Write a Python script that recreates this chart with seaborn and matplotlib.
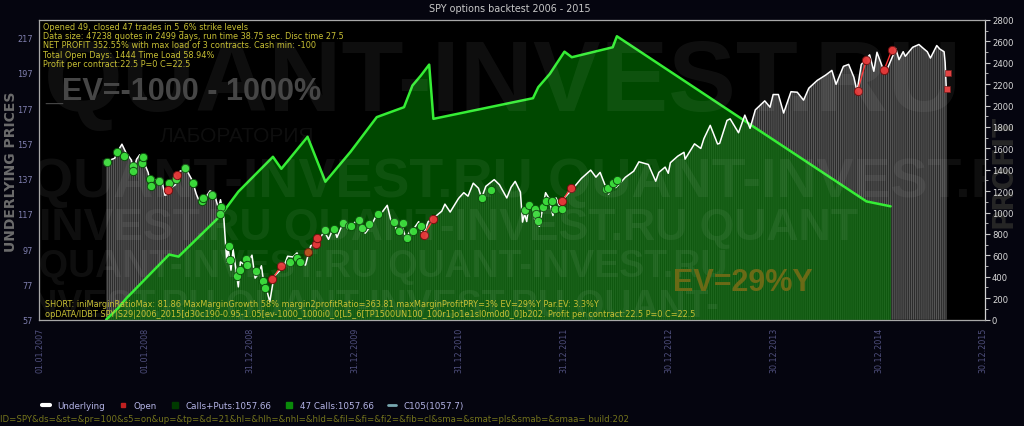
import numpy as np
import pandas as pd
import matplotlib
matplotlib.use("Agg")
import matplotlib.pyplot as plt
import seaborn as sns
from matplotlib.lines import Line2D
from matplotlib.ticker import MultipleLocator

# ---------------- data ----------------
title = "SPY options backtest 2006 - 2015"

info_lines = [
    "Opened 49, closed 47 trades in 5_6% strike levels",
    "Data size: 47238 quotes in 2499 days, run time 38.75 sec. Disc time 27.5",
    "NET PROFIT 352.55% with max load of 3 contracts. Cash min: -100",
    "Total Open Days: 1444 Time Load 58.94%",
    "Profit per contract:22.5 P=0 C=22.5",
]
short_lines = [
    "SHORT: iniMarginRatioMax: 81.86 MaxMarginGrowth 58% margin2profitRatio=363.81 maxMarginProfitPRY=3% EV=29%Y Par.EV: 3.3%Y",
    "opDATA/IDBT SPY|S29|2006_2015[d30c190-0.95-1.05[ev-1000_1000i0_0[L5_6[TP1500UN100_100r1]o1e1sl0m0d0_0]b202. Profit per contract:22.5 P=0 C=22.5",
]
url_text = ("ID=SPY&ds=&st=&pr=100&s5=on&up=&tp=&d=21&hl=&hlh=&nhl=&hld=&fil=&fi=&fi2=&fib=cl"
            "&sma=&smat=pls&smab=&smaa= build:202")
legend_labels = ["Underlying", "Open", "Calls+Puts:1057.66", "47 Calls:1057.66", "C105(1057.7)"]

x_tick_labels = ["01.01.2007", "01.01.2008", "31.12.2008", "31.12.2009", "31.12.2010",
                 "31.12.2011", "30.12.2012", "30.12.2013", "30.12.2014", "30.12.2015"]
left_ticks = [57, 77, 97, 117, 137, 157, 177, 197, 217]
right_ticks = list(range(0, 2801, 200))

# underlying price (decimal year, price)
under_year = [
    2007.63, 2007.67, 2007.71, 2007.75, 2007.78, 2007.82, 2007.84, 2007.87, 2007.89, 2007.92, 2007.95, 2007.99,
    2008.03, 2008.06, 2008.08, 2008.12, 2008.16, 2008.19, 2008.21, 2008.25, 2008.29, 2008.33, 2008.38, 2008.41,
    2008.45, 2008.49, 2008.53, 2008.58, 2008.62, 2008.66, 2008.70, 2008.72, 2008.75, 2008.78, 2008.79, 2008.82,
    2008.84, 2008.89, 2008.91, 2008.95, 2008.99,
    2009.02, 2009.05, 2009.08, 2009.11, 2009.13, 2009.16, 2009.19, 2009.23, 2009.29, 2009.33, 2009.36, 2009.41,
    2009.45, 2009.48, 2009.53, 2009.58, 2009.62, 2009.66, 2009.71, 2009.75, 2009.80, 2009.83, 2009.88, 2009.92, 2009.99,
    2010.04, 2010.08, 2010.10, 2010.16, 2010.21, 2010.25, 2010.31, 2010.35, 2010.38, 2010.40, 2010.45, 2010.49,
    2010.52, 2010.55, 2010.58, 2010.61, 2010.65, 2010.70, 2010.75, 2010.83, 2010.86, 2010.91, 2010.99,
    2011.04, 2011.08, 2011.13, 2011.18, 2011.21, 2011.25, 2011.33, 2011.38, 2011.45, 2011.49, 2011.53, 2011.58,
    2011.60, 2011.62, 2011.64, 2011.66, 2011.70, 2011.72, 2011.76, 2011.82, 2011.85, 2011.89, 2011.92, 2011.96, 2011.99,
    2012.08, 2012.16, 2012.25, 2012.30, 2012.34, 2012.42, 2012.46, 2012.49, 2012.54, 2012.58, 2012.66, 2012.71,
    2012.80, 2012.87, 2012.90, 2012.96, 2012.99,
    2013.01, 2013.08, 2013.14, 2013.15, 2013.24, 2013.30, 2013.33, 2013.39, 2013.46, 2013.48, 2013.55, 2013.58,
    2013.66, 2013.72, 2013.77, 2013.82, 2013.91, 2013.96, 2013.99,
    2014.04, 2014.09, 2014.16, 2014.22, 2014.28, 2014.33, 2014.41, 2014.49, 2014.55, 2014.59, 2014.66, 2014.71,
    2014.76, 2014.79, 2014.83, 2014.91, 2014.95, 2014.98,
    2015.04, 2015.08, 2015.16, 2015.19, 2015.23, 2015.25, 2015.32, 2015.38, 2015.42, 2015.46, 2015.49, 2015.55,
    2015.58, 2015.62, 2015.63, 2015.64, 2015.645,
]
under_price = [
    147.0, 147.6, 148.5, 153.5, 156.5, 151.5, 150.0, 147.5, 141.5, 148.0, 150.5, 146.2,
    140.5, 131.0, 137.4, 134.5, 136.0, 127.5, 128.0, 132.0, 133.5, 141.0, 142.6, 140.4,
    136.0, 128.0, 122.5, 126.4, 130.0, 128.8, 120.0, 125.0, 116.0, 89.5, 99.0, 85.0,
    97.0, 75.5, 89.7, 88.0, 90.2,
    93.5, 80.5, 82.8, 87.5, 79.0, 73.9, 67.1, 81.5, 85.0, 88.0, 92.9, 92.5,
    94.8, 89.4, 87.9, 98.8, 100.0, 102.5, 107.0, 102.5, 109.5, 103.6, 110.5, 111.0, 111.4,
    114.5, 107.4, 106.0, 110.7, 116.5, 117.0, 121.8, 112.0, 112.5, 107.0, 110.0, 102.9,
    106.5, 107.5, 110.0, 112.5, 104.5, 112.5, 114.5, 118.5, 122.5, 118.0, 125.75,
    129.0, 127.0, 134.4, 131.5, 126.0, 132.6, 136.4, 133.5, 126.0, 132.0, 135.4, 129.3,
    112.3, 117.0, 112.6, 121.9, 120.0, 112.5, 109.9, 129.0, 126.0, 116.0, 126.0, 120.3, 125.5,
    131.3, 137.0, 141.8, 137.8, 140.5, 128.2, 134.0, 131.9, 135.0, 137.7, 141.2, 146.5,
    145.0, 135.5, 140.5, 143.5, 140.0,
    146.0, 149.7, 151.9, 148.0, 156.7, 154.1, 159.7, 167.2, 156.6, 157.0, 170.0, 170.9,
    163.0, 173.0, 165.5, 176.0, 181.1, 177.5, 184.7,
    184.7, 174.2, 186.3, 186.0, 181.5, 188.3, 192.7, 195.7, 198.4, 190.5, 200.7, 201.8,
    194.5, 186.4, 201.7, 207.2, 197.9, 208.7,
    199.0, 199.5, 210.7, 204.5, 209.0, 206.4, 211.5, 213.1, 211.0, 209.0, 205.4, 212.5,
    210.5, 209.0, 203.0, 189.5, 187.3,
]

# cumulative profit curve (decimal year, profit)
profit_year = [2007.63, 2007.74, 2007.82, 2008.23, 2008.32, 2008.72, 2008.89, 2009.22, 2009.30,
               2009.55, 2009.72, 2009.96, 2010.21, 2010.47, 2010.55, 2010.63, 2010.71, 2010.75,
               2011.70, 2011.75, 2011.86, 2012.00, 2012.07, 2012.46, 2012.50, 2014.88, 2015.11]
profit_value = [0, 103, 196, 607, 588, 971, 1195, 1521, 1409,
                1708, 1288, 1568, 1892, 1985, 2187, 2280, 2383, 1876,
                2069, 2172, 2296, 2504, 2452, 2545, 2648, 1104, 1058]

# closed trades (green)
win_year = [2007.635, 2007.730, 2007.796, 2007.888, 2007.888, 2007.968, 2007.983, 2008.047, 2008.056,
            2008.135, 2008.224, 2008.294, 2008.382, 2008.458, 2008.548, 2008.557, 2008.636, 2008.722,
            2008.715, 2008.801, 2008.808, 2008.881, 2008.903, 2008.967, 2008.976, 2009.055, 2009.128,
            2009.141, 2009.381, 2009.445, 2009.474, 2009.714, 2009.804, 2009.886, 2009.943, 2009.966,
            2010.044, 2010.070, 2010.140, 2010.219, 2010.377, 2010.456, 2010.418, 2010.498, 2010.551,
            2010.631, 2011.212, 2011.297, 2011.624, 2011.665, 2011.719, 2011.728, 2011.750, 2011.798,
            2011.821, 2011.878, 2011.909, 2011.973, 2012.392, 2012.411, 2012.464, 2012.502]
win_price = [146.6, 152.1, 149.8, 144.1, 141.3, 146.1, 149.5, 137.0, 132.5,
             135.6, 134.7, 137.0, 143.2, 134.2, 124.3, 126.2, 127.7, 121.1,
             116.8, 98.8, 90.7, 81.8, 85.0, 91.3, 88.0, 84.3, 79.0,
             74.7, 89.7, 91.8, 89.7, 107.9, 108.3, 111.5, 110.1, 110.1,
             113.5, 108.8, 111.1, 116.8, 112.1, 111.7, 107.3, 103.2, 107.0,
             109.8, 126.2, 130.5, 119.2, 122.0, 119.6, 116.8, 113.0, 121.1,
             124.3, 124.0, 120.0, 120.0, 130.9, 131.5, 134.2, 136.0]

# open trades (red), paired by id
open_year = [2008.215, 2008.303, 2009.214, 2009.300, 2009.635, 2009.642, 2010.656, 2010.751,
             2011.978, 2012.061, 2014.795, 2014.878, 2015.049, 2015.122]
open_price = [130.4, 139.0, 80.0, 87.5, 99.8, 103.2, 105.0, 113.9,
              124.3, 131.7, 186.6, 204.2, 198.8, 209.9]
open_pair = [1, 1, 2, 2, 3, 3, 4, 4, 5, 5, 6, 6, 7, 7]
extra_open_year = [2009.553]
extra_open_price = [95.4]
last_year = [2015.660, 2015.651]
last_price = [197.1, 188.0]

# watermark text
wm_big = "QUANT-INVEST.RU"
wm_lab = "ЛАБОРАТОРИЯ"
wm_rows = ["QUANT-INVEST.RU QUANT-INVEST.RU", "INVEST.RU QUANT-INVEST.RU QUANT",
           "QUANT-INVEST.RU QUANT-INVEST.RU", "INVEST.RU QUANT-INVEST.RU QUANT-"]


def to_date(years):
    y = np.asarray(years, dtype=float)
    return pd.Timestamp("2007-01-01") + pd.to_timedelta((y - 2007.0) * 365.25, unit="D")


ud = to_date(under_year)
pdt = to_date(profit_year)
wd = to_date(win_year)
od = to_date(open_year)
open_df = pd.DataFrame({"t": od, "p": open_price, "pair": open_pair})
tick_dates = pd.to_datetime(x_tick_labels, format="%d.%m.%Y")

# ---------------- style ----------------
sns.set_theme(style="dark")
plt.rcParams["font.family"] = ["DejaVu Sans"]
plt.rcParams["hatch.linewidth"] = 0.6
plt.rcParams["hatch.color"] = "#606060"

FIG_BG = "#05050f"
fig = plt.figure(figsize=(10.24, 4.27), dpi=100, facecolor=FIG_BG)
ax = fig.add_axes([39 / 1024, 1 - 320.5 / 427, 946 / 1024, 299.5 / 427])
ax.set_facecolor("black")
ax_p = ax.twinx()
ax_top = ax.twinx()

# stripes under the underlying
ax.fill_between(ud, 57, under_price, facecolor="#2c2c2c", edgecolor="#606060",
                hatch="||||||||", linewidth=0, zorder=1)

# profit curve + fill
ax_p.fill_between(pdt, 0, profit_value, color=(0.0, 0.43, 0.0), alpha=0.66, linewidth=0, zorder=1)
sns.lineplot(x=pdt, y=profit_value, ax=ax_p, color="#35ee35", linewidth=1.8, zorder=2)

# underlying line and trades
sns.lineplot(x=ud, y=under_price, ax=ax_top, color="white", linewidth=1.1, zorder=3, sort=True)
sns.lineplot(data=open_df, x="t", y="p", units="pair", estimator=None, ax=ax_top,
             color="#ff3535", linewidth=1.0, zorder=4)
sns.scatterplot(x=wd, y=win_price, ax=ax_top, s=36, color="#3ad83a", edgecolor="#0c4c0c",
                linewidth=0.7, zorder=5)
sns.scatterplot(x=od, y=open_price, ax=ax_top, s=36, color="#e03838", edgecolor="#701010",
                linewidth=0.7, zorder=6)
sns.scatterplot(x=to_date(extra_open_year), y=extra_open_price, ax=ax_top, s=36, color="#b04a14",
                edgecolor="#501a05", linewidth=0.7, zorder=6)
sns.scatterplot(x=to_date(last_year), y=last_price, ax=ax_top, s=14, marker="s", color="#e03838",
                edgecolor="#701010", linewidth=0.5, zorder=6)

# ---------------- axes ----------------
xmin, xmax = pd.Timestamp("2006-12-28"), pd.Timestamp("2016-01-05")
for a in (ax, ax_p, ax_top):
    a.grid(False)
    a.set_xlabel("")
    a.set_ylabel("")
ax.set_xlim(xmin, xmax)
ax.set_ylim(57, 227)
ax_top.set_ylim(57, 227)
ax_p.set_ylim(0, 2800)

ax.set_xticks(tick_dates)
ax.set_xticklabels(x_tick_labels, rotation=90, fontsize=5.8, color="#50507e")
ax.tick_params(axis="x", length=0, pad=5, bottom=True, labelbottom=True)
ax.set_yticks(left_ticks)
ax.set_yticklabels([str(v) for v in left_ticks], fontsize=5.9, color="#8080b0")
ax.tick_params(axis="y", length=0, pad=4.5)

ax_p.set_yticks(right_ticks)
ax_p.set_yticklabels([str(v) for v in right_ticks], fontsize=6.1, color="#d8d8d8")
ax_p.yaxis.set_minor_locator(MultipleLocator(100))
ax_p.tick_params(axis="y", which="major", direction="out", length=3.5, width=0.8,
                 color="#c8c8c8", pad=1.5, right=True)
ax_p.tick_params(axis="y", which="minor", direction="out", length=2, width=0.6,
                 color="#c8c8c8", right=True)
ax_top.tick_params(axis="y", left=False, right=False, labelleft=False, labelright=False)

for a in (ax, ax_p):
    for s in a.spines.values():
        s.set_visible(False)
for name, s in ax_top.spines.items():
    s.set_visible(True)
    s.set_color("#a8a8a8" if name != "right" else "#d0d0d0")
    s.set_linewidth(0.9)
    s.set_zorder(20)

# ---------------- watermark ----------------
wm = dict(color="white", alpha=0.06, family="Liberation Sans", weight="bold",
          transform=ax_top.transAxes, clip_on=True, zorder=8)
ax_top.text(0.49, 0.70, wm_big, fontsize=73, ha="center", va="baseline", **wm)
ax_top.text(0.128, 0.596, wm_lab, fontsize=15, ha="left", va="baseline",
            color="white", alpha=0.06, family="Liberation Sans",
            transform=ax_top.transAxes, clip_on=True, zorder=8)
ax_top.text(-0.01, 0.412, wm_rows[0], fontsize=40, ha="left", va="baseline", **wm)
ax_top.text(0.0, 0.269, wm_rows[1], fontsize=32, ha="left", va="baseline", **wm)
ax_top.text(0.0, 0.145, wm_rows[2], fontsize=27, ha="left", va="baseline", **wm)
ax_top.text(-0.02, 0.012, wm_rows[3], fontsize=27, ha="left", va="baseline", **wm)

ax_top.text(6 / 946, (320.5 - 100) / 299.5, "_EV=-1000 - 1000%", fontsize=22, weight="bold",
            family="Liberation Sans", color="#464646", transform=ax_top.transAxes,
            ha="left", va="baseline", zorder=9)
ax_top.text((673 - 39) / 946, (320.5 - 291) / 299.5, "EV=29%Y", fontsize=22, weight="bold",
            family="Liberation Sans", color="#6a6a16", transform=ax_top.transAxes,
            ha="left", va="baseline", zorder=9)

# ---------------- text blocks ----------------
YEL = "#c8c034"
for i, line in enumerate(info_lines):
    ax_top.text(4 / 946, (320.5 - (27 + 9.4 * i)) / 299.5, line, fontsize=5.9, color=YEL,
                transform=ax_top.transAxes, ha="left", va="center", zorder=12)
for i, line in enumerate(short_lines):
    ax_top.text(6 / 946, (320.5 - (305 + 10 * i)) / 299.5, line, fontsize=5.9, color=YEL,
                transform=ax_top.transAxes, ha="left", va="center", zorder=12)

fig.text(510 / 1024, 1 - 9 / 427, title, ha="center", va="center", fontsize=6.9, color="#c8c8c8")
fig.text(11 / 1024, 1 - 172 / 427, "UNDERLYING PRICES", rotation=90, ha="center", va="center",
         fontsize=10, weight="bold", color="#6c6c6c")
fig.text(1004 / 1024, 1 - 171 / 427, "PROFIT", rotation=90, ha="center", va="center",
         fontsize=20, weight="bold", color="#262626", zorder=-1)
fig.text(0.0, 1 - 420 / 427, url_text, ha="left", va="center", fontsize=6.2, color="#74741c")

handles = [
    Line2D([], [], color="white", linewidth=3),
    Line2D([], [], color="#c02020", marker="s", linestyle="", markersize=3.5),
    Line2D([], [], color="#003a00", marker="s", linestyle="", markersize=4.5),
    Line2D([], [], color="#0a8a0a", marker="s", linestyle="", markersize=4.5),
    Line2D([], [], color="#78a8b0", linewidth=2),
]
leg = fig.legend(handles, legend_labels, loc="center left", bbox_to_anchor=(42 / 1024, 1 - 407 / 427),
                 ncol=5, frameon=False, fontsize=6.3, handlelength=0.9, handletextpad=0.8,
                 columnspacing=1.6, borderpad=0, borderaxespad=0)
for t in leg.get_texts():
    t.set_color("#b4b4e6")

fig.savefig("out.png", dpi=100, facecolor=FIG_BG)
